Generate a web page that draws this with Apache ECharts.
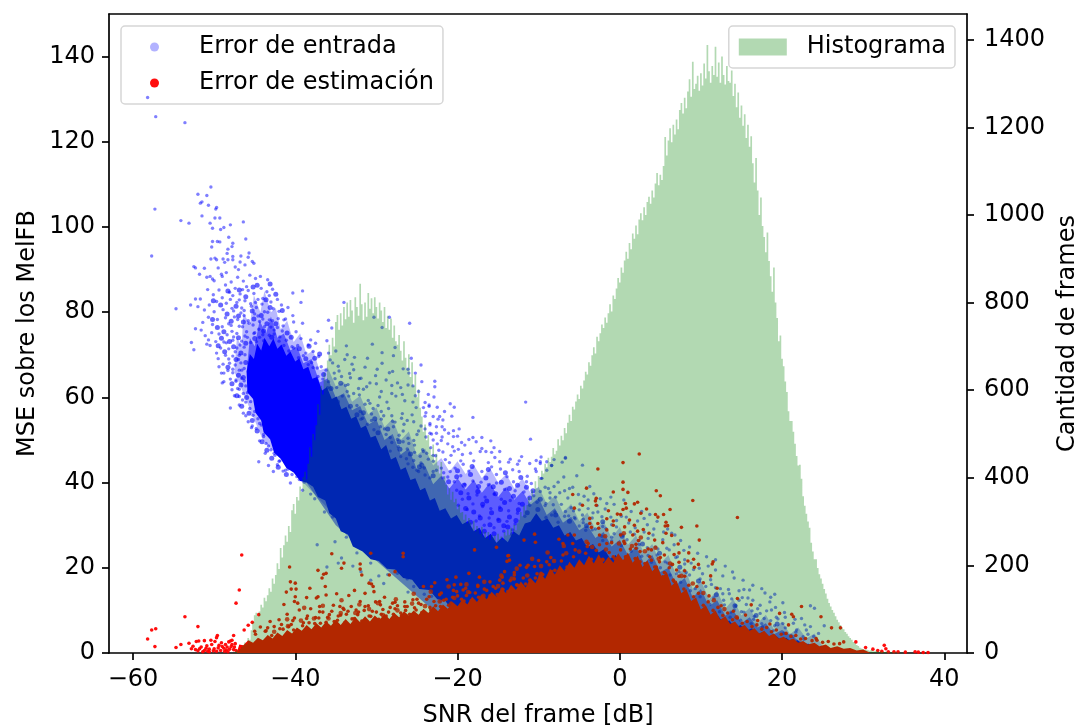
<!DOCTYPE html>
<html><head><meta charset="utf-8"><style>html,body{margin:0;padding:0;background:#fff}#c{width:1081px;height:728px}</style>
<script src="https://cdn.jsdelivr.net/npm/echarts@6/dist/echarts.min.js"></script></head><body><div id="c"></div>
<script>
const xTicks=[-60,-40,-20,0,20,40];
const yLeftTicks=[0,20,40,60,80,100,120,140];
const yRightTicks=[0,200,400,600,800,1000,1200,1400];
const histStart=-47.4, histStep=0.2;
const histCounts=[
2,6,4,9,14, 18,24,21,34,30, 52,70,86,92,84, 95,110,104,126,118, 132,148,140,170,158,
178,205,192,240,218, 246,268,254,290,276, 326,340,318,356,348, 380,368,402,414,396, 432,470,448,500,486,
520,568,544,610,590, 640,622,668,704,680, 720,700,756,772,738, 776,748,790,762,800, 768,806,782,754,812,
790,770,843,796,760, 800,768,822,786,810, 776,812,790,764,800, 782,756,790,742,770, 738,764,720,748,712,
704,726,690,668,712, 674,650,682,630,664, 610,636,584,602,560, 540,505,522,486,498, 470,452,476,440,455,
428,410,436,396,404, 384,362,376,350,368, 344,352,328,338,320, 322,304,316,296,308, 298,286,302,278,290,
284,272,288,266,276, 262,276,258,270,264, 268,254,272,260,266, 258,276,268,282,270, 286,272,292,280,296,
304,322,312,336,326, 338,356,346,372,360, 392,376,404,398,416, 410,432,424,446,436, 448,468,454,462,488,
474,496,486,514,502, 526,544,530,562,556, 574,590,580,610,604, 622,642,636,664,656, 680,698,684,722,712,
730,750,742,766,754, 776,796,780,816,808, 832,856,846,880,868, 896,916,900,936,922, 958,946,976,956,990,
1004,988,1018,1000,1030, 1042,1026,1056,1040,1072, 1096,1068,1092,1080,1112, 1178,1136,1170,1198,1166, 1206,1184,1218,1196,1240,
1256,1232,1268,1244,1282, 1310,1270,1350,1288,1300, 1318,1284,1324,1296,1346, 1312,1388,1328,1302,1340, 1320,1384,1316,1348,1302,
1362,1320,1298,1340,1306, 1302,1330,1272,1300,1246, 1280,1222,1250,1204,1230, 1176,1206,1156,1180,1118, 1074,1130,1056,1000,1040,
975,950,915,960,895, 860,825,880,800,765, 712,725,672,655,620, 596,552,530,530,505, 478,450,428,430,398,
358,336,318,300,286, 252,232,214,214,194, 180,170,158,146,136, 124,114,106,98,92, 84,76,70,64,58,
54,48,44,38,34, 30,25,22,18,16, 12,10,9,8,8, 6,5,7,4,4, 5,3,3,4,2, 2,3,2,1,2, 1,2,1,1,1, 1,0,1,0,1];

const blueCore=[[-46,66],[-45.6,70.2],[-45.1,69],[-44.7,72.6],[-44.2,71],[-43.8,74],[-43.2,72],[-42.7,73.8],[-42.2,71.4],[-41.7,72.4],[-41.1,69.8],[-40.6,70.8],[-40,68.4],[-39.5,69.2],[-39,66.6],[-38.4,67.2],[-37.9,64.4],[-37.3,64.8],[-36.7,61.6],[-36.1,62.4],[-35.5,59.6],[-34.9,60.2],[-34.3,57.2],[-33.7,57.8],[-33.1,55],[-32.5,55.6],[-31.9,52.8],[-31.3,53.4],[-30.7,50.6],[-30.1,51],[-29.4,47.8],[-28.8,48.8],[-28.2,45.4],[-27.6,46],[-27,43],[-26.4,43.6],[-25.8,40.6],[-25.2,41],[-24.6,38.2],[-24,38.8],[-23.4,35.8],[-22.8,36.4],[-22.2,33.4],[-21.5,34],[-20.8,31.6],[-20.1,32.4],[-19.4,30.2],[-18.7,31],[-18,28.6],[-17.3,29.4],[-16.6,27],[-15.9,28],[-15.2,25.8],[-14.5,27.2],[-13.8,26],[-13.1,28.6],[-12.4,27.6],[-11.7,30.4],[-11,30.8],[-10.3,32.8],[-9.6,31],[-8.9,31.6],[-8.2,29.4],[-7.5,30],[-6.8,27.6],[-6.1,28.4],[-5.4,26.4],[-4.7,27],[-4,24.8],[-3.3,25.6],[-2.6,23.6],[-1.9,24.4],[-1.2,22.2],[-0.5,23],[0.2,20.8],[0.9,21.6],[1.6,19.6],[2.3,20.4],[3,18],[3.7,18.8],[4.4,16.8],[5.1,17.6],[5.8,15.2],[6.5,15.8],[7.2,13.2],[7.9,13.8],[8.6,11.2],[9.3,11.8],[10,9.6],[10.7,10.4],[11.4,8.2],[12.1,8.8],[12.8,7],[13.5,7.6],[14.2,6],[14.9,6.6],[15.6,5.2],[16.3,5.8],[17,4.4],[17.7,5],[18.4,3.8],[19.1,4.2],[19.8,3.2],[20.5,3.6],[21.2,2.6],[21.9,3],[22.6,2],[23.3,2.2],[24,1.2],[25,1.2],[26,0.3],[26,0],[-18.5,0],[-18.5,7],[-19.5,9.2],[-20.6,9.8],[-21.5,12.2],[-22.5,12.6],[-23.5,14.8],[-24.7,15],[-25.6,17.2],[-26.7,17.6],[-27.7,19.6],[-28.7,19.8],[-29.7,21.6],[-30.7,22],[-31.7,23.8],[-32.9,25],[-33.5,27.8],[-34.4,28.6],[-35,31.6],[-35.8,32.8],[-36.3,35.8],[-37.2,36.6],[-37.8,39],[-38.6,40],[-39.4,40.4],[-40.2,42.4],[-41.1,43.4],[-41.8,45.6],[-42.6,47],[-43.1,50.2],[-43.9,51.8],[-44.2,54.6],[-44.9,56.4],[-45.2,59.6],[-45.9,61.2]];
const blueHazeInner=[[-46,66],[-45.6,74],[-45,72],[-44.4,78],[-43.6,75],[-43,79],[-42.2,74],[-41.4,75],[-40.6,71],[-39.8,72],[-39,68],[-38,69],[-37,63.5],[-36,64.5],[-35,60],[-34,61],[-33,57],[-32,58],[-31,53.6],[-30,54.8],[-29,50],[-28,51.4],[-27,46.6],[-26,48],[-25,43],[-24,44],[-23,39.6],[-22,41.6],[-21,38.6],[-20,41],[-19,38.4],[-18,40.6],[-17,37.6],[-16,40],[-15,36.6],[-14,39],[-13,36],[-12,38],[-11,34.8],[-10,36.4],[-9,32.4],[-8,34],[-7,30.6],[-6,32],[-5,28.8],[-4,30],[-3,27],[-2,28.4],[-1,25],[0,26.6],[1,23],[2,25],[3,21],[4,23],[5,19],[6,20],[7,16],[8,17.6],[9,13],[10,15],[11,11],[12,12.4],[13,8.8],[14,10],[15,7],[16,8.4],[17,6],[18,7],[19,4.4],[20,5.4],[22,3],[24,1.5],[-20,5],[-35,30],[-44,55]];
const blueHazeOuter=[[-47.5,66],[-47.2,74],[-46.6,72],[-46.4,80],[-45.6,77],[-45.1,84],[-44.3,80],[-43.8,85],[-43,80],[-42.4,81],[-41.8,76],[-41,78],[-40.2,73],[-39.4,75],[-38.6,70],[-37.8,71],[-37,66.4],[-36,67],[-35,62.6],[-34,63.6],[-33,59],[-32,60.4],[-31,56],[-30,57.6],[-29,53],[-28,55],[-27,50],[-26,52],[-25,46.4],[-24,48],[-23,44],[-22,45.8],[-21,42.6],[-20,45],[-19,42],[-18,44.2],[-17,41],[-16,43.4],[-15,40],[-14,42],[-13,38.6],[-12,41],[-11,37.6],[-10,39],[-9,35],[-8,37],[-7,33],[-6,35],[-5,31],[-4,33],[-3,29],[-2,31],[-1,27],[0,29.6],[1,25.4],[2,27.6],[3,23.4],[4,25.6],[5,21],[6,23],[7,18],[8,20],[9,15],[10,17],[11,12.6],[12,14.6],[13,10.4],[14,12.6],[15,8.8],[16,10.6],[17,7],[18,9],[19,5.6],[20,7.4],[21,4.4],[22,6],[23,3.4],[24,4.6],[25,1.6],[20,0],[-30,22],[-44,50]];
const redCore=[[-47.2,0.2],[-46.9,2],[-46.4,1.8],[-45.8,3],[-45.2,2.4],[-44.6,3.6],[-44,3],[-43.4,4.2],[-42.8,3.4],[-42.2,4.8],[-41.6,4],[-41,5.4],[-40.4,4.6],[-39.8,6],[-39.2,5.2],[-38.6,6.6],[-38,5.6],[-37.4,7],[-36.8,6],[-36.2,7.4],[-35.6,6.4],[-35,7.8],[-34.4,6.6],[-33.8,8],[-33.2,6.8],[-32.6,8.4],[-32,7.2],[-31.4,8.6],[-30.8,7.4],[-30.2,8.8],[-29.6,7.8],[-29,9.2],[-28.4,8],[-27.8,9.4],[-27.2,8.4],[-26.6,9.8],[-26,8.8],[-25.4,10],[-24.8,9],[-24.2,10.4],[-23.6,9.4],[-23,11],[-22.4,9.8],[-21.8,11.4],[-21.2,10.4],[-20.6,12],[-20,11],[-19.4,12.6],[-18.8,11.4],[-18.2,13.2],[-17.6,12],[-17,13.8],[-16.4,12.6],[-15.8,14.4],[-15.2,13.2],[-14.6,15.2],[-14,14],[-13.4,16],[-12.8,14.8],[-12.2,16.8],[-11.6,15.4],[-11,17.6],[-10.4,16.4],[-9.8,18.8],[-9.2,17.4],[-8.6,19.8],[-8,18.4],[-7.4,20.6],[-6.8,19.2],[-6.2,21.4],[-5.6,20],[-5,22],[-4.4,20.6],[-3.8,22.8],[-3.2,21],[-2.6,23.2],[-2,21],[-1.4,22.6],[-0.8,21.2],[-0.2,23.4],[0.4,21.8],[1,23.6],[1.6,21.2],[2.2,22.8],[2.8,20.2],[3.4,21.8],[4,19.2],[4.6,20.4],[5.2,17.8],[5.8,19],[6.4,15.8],[7,17],[7.6,14],[8.2,15],[8.8,12.2],[9.4,13],[10,10.2],[10.6,11.2],[11.2,9],[11.8,10],[12.4,7.8],[13,8.6],[13.6,6.8],[14.2,7.4],[14.8,6],[15.4,6.6],[16,5.2],[16.6,5.8],[17.2,4.6],[17.8,5.2],[18.4,4],[19,4.6],[19.6,3.4],[20.2,3.8],[20.8,3],[21.4,3.4],[22,2.4],[22.6,2.8],[23.2,2],[24,2.4],[24.6,1.6],[25.4,2],[26,1.2],[26.8,1.6],[27.6,1],[28.4,1.2],[29.2,0.6],[30,0.8],[30.8,0.1],[30.8,0],[-47.2,0]];

const blueTop=[[-58.2,130.4],[-57.2,125.9],[-53.6,124.5],[-50.4,109.4],[-52,107.7],[-50.9,107.4],[-51.7,105.6],[-51.5,105.9],[-50.7,105.1],[-49.7,104.6],[-49.8,104.2],[-57.3,104.2],[-54.1,101.5],[-53.1,100.9],[-51.5,102.6],[-50.5,100.9],[-49.9,102.1],[-49.3,102.1],[-50.2,99.7],[-49.2,99.4],[-48.8,99.9],[-48,100.5],[-46.4,101.2],[-46.1,97.2],[-48.2,97.6],[-50.2,96.6],[-49.6,96.6],[-49.3,96.5],[-47.7,96.2],[-50.3,95.3],[-47.8,95.4],[-48.3,94.8],[-48.4,93.8],[-45.7,93.9],[-46.7,93.2],[-47.7,93.1],[-45.8,92.9],[-57.7,93.2],[-50.4,92.5],[-49.9,92.7],[-49.7,92.3],[-48.9,92.5],[-48.3,92.3],[-47.7,92.3],[-46.8,91.8],[-46.2,91.1],[-45.3,91.9],[-45.1,91.5],[-48.7,91.7],[-52.5,90.7],[-52.3,90.4],[-51.2,90.3],[-49.5,90.4],[-47.4,90.6],[-47,90],[-51.8,88.9],[-49.1,88.9],[-48.5,89.3],[-50.9,88.2],[-50.5,88.4],[-50.2,87.8],[-50,87.4],[-49,88.4],[-54.7,80.8],[-52.3,83.1],[-51.7,83.1],[-52.9,81.7],[-52,81.3],[-52.3,76.1],[-52.8,72.9],[-52.5,71.2],[-51.1,74.5],[-50.9,72.5],[-50.5,72.2],[-49.5,69.1],[-49.1,65.7],[-48.8,65.7],[-49,63.4],[-48.8,63.7],[-48,57.5],[-47.5,60.4],[-47.8,61.8],[-46.9,60.2],[-45.8,54.3],[-45.3,53.3],[-44.5,44.9],[-43.3,44],[-42.7,42.6],[-41.5,42.7],[-40.3,84.5],[-39.1,85],[-39.3,82.3],[-43.4,87.6],[-44.3,88.4],[-40.9,81.1],[-42,80.2],[-40.3,79.2],[-40.2,77.7],[-39.1,77.4],[-34,82.3],[-35.9,78.1],[-37.2,75.5],[-35.5,76.3],[-38.1,73.5],[-37.5,72.7],[-36.1,73.3],[-38.4,72.3],[-39.7,72.2],[-35.9,70.4],[-35,70.9],[-37.1,69.6],[-35.7,68.8],[-38,68.2],[-34.7,67.3],[-30.3,78.8],[-28.4,78.8],[-25.9,77.4],[-29.3,76.4],[-33.7,72.1],[-30.5,72.5],[-29.3,70.5],[-27.9,69.8],[-27.7,71.7],[-33.6,70],[-31.1,69.2],[-25.7,69.2],[-24.5,67.6],[-29.3,68],[-33,67.8],[-32.8,66.5],[-31.9,64.5],[-29.9,66.6],[-28.4,65.8],[-28,66.1],[-26.7,66.7],[-26,65.7],[-25.2,65.7],[-26.1,66.6],[-24.4,63.7],[-22.8,63.8],[-22.8,62.5],[-30,63.2],[-31.2,62.5],[-31.6,61.9],[-27,62.3],[-25.5,62.7],[-28.1,62.8]];
const blueCloud=[[-48.6,86.4],[-47.9,87.1],[-47.1,88.2],[-46.4,87.3],[-45.6,88.7],[-44.9,87.9],[-46,86],[-47.4,85.6],[-48.1,84.7],[-49.4,85.2],[-50.1,84.1],[-50.8,85.3],[-49,83.4],[-47.7,83.9],[-46.8,84.3],[-45.8,85.1],[-45.1,84.4],[-44.2,85.6],[-43.5,84.8],[-42.8,85.4],[-44.6,83],[-46.2,82.7],[-47.2,82.3],[-48.5,82.1],[-49.7,82.5],[-50.6,81.7],[-51.2,80.5],[-50,80.1],[-48.9,80.6],[-47.8,80.9],[-46.6,81],[-45.4,81.4],[-44.1,81.9],[-43,82.4],[-42.2,83],[-41.7,81.7],[-42.7,80.8],[-43.8,80.1],[-45,79.6],[-46.3,79.2],[-47.5,78.9],[-48.6,78.7],[-49.6,78.3],[-50.7,78.8],[-51.4,77.6],[-50.2,77.1],[-49,76.6],[-47.9,76.9],[-46.9,76.7],[-45.7,77.4],[-44.4,77.8],[-43.2,78.2],[-42.1,78.5],[-41.2,78.4],[-41.5,76.8],[-43,76.5],[-44.5,76],[-46,75.4],[-47.2,75],[-48.4,74.7],[-49.4,74.9],[-50.3,75.2],[-51.6,75.8],[-50.7,73.5],[-49.8,73.1],[-48.8,73],[-47.7,73.4],[-46.6,73.2],[-45.9,74.1],[-48.2,71.4],[-49.2,71.6],[-47.2,71.6],[-46.3,71.8],[-49.7,70.4],[-48.6,69.9],[-47.7,69.7],[-46.9,69.9],[-46.2,70],[-48.1,68],[-47.4,67.6],[-46.7,68.1],[-48.9,67.8],[-49.4,67.2],[-48.3,66.3],[-47.7,65.8],[-46.9,66.4],[-46.3,66.8],[-48,64.3],[-47.3,63.8],[-46.6,64.5],[-46.1,62.7],[-47.1,62.1],[-46.4,60.9],[-45.7,61.6],[-46.9,58.2],[-46.1,58.9],[-45.6,57.4],[-46.4,56.3],[-45.2,55.8],[-44.6,55],[-44.8,52.7],[-44.2,53.5],[-43.9,51.3],[-44.4,49.8],[-43.6,49.2],[-43,47.7],[-42.5,46.4],[-43.7,46.9],[-41.9,45.1],[-42.2,44.2],[-41.4,78.2],[-44.9,82.3],[-46.7,79.8],[-48,83],[-46.5,85.3],[-47.6,74.2],[-45.1,75],[-44,74.7],[-41.9,74.2],[-41.1,73.4],[-39.9,75.4],[-39.3,73.8],[-40.4,71.9],[-42.6,74.9],[-43.9,73.3],[-44.8,73.1],[-38.7,70.4],[-37.8,70.8],[-36.8,67.2],[-36.2,66.4],[-37.3,66.9],[-35.2,65.7],[-34.3,64.9],[-35.9,63.7],[-33.8,62.8],[-34.9,62.3]];
const blueBand=[[-33.2,64.6],[-32.2,62.1],[-31,59.3],[-32.4,58.1],[-30.4,57.4],[-29.6,60.1],[-28.7,58.9],[-27.6,60.3],[-26.5,59.2],[-25.2,60.4],[-24,58.8],[-22.9,60.1],[-23.9,56.4],[-25.1,57.6],[-26.8,56.2],[-28.1,55.7],[-29.4,54.9],[-30.6,54.6],[-31.7,55.1],[-29,52.6],[-27.9,53.1],[-26.6,53.7],[-25.4,54.3],[-24.5,53.3],[-23.4,53.9],[-22.4,54.9],[-21.6,56.7],[-28.3,50.6],[-27.2,51.1],[-26.1,50.4],[-25,51.3],[-23.9,50.7],[-27.3,48.4],[-26.2,47.9],[-25.3,48.8],[-24.3,47.7],[-23.3,48.2],[-22.5,49.1],[-26.3,45.6],[-25.4,45.2],[-24.5,44.6],[-23.6,45.5],[-22.7,46.3],[-21.8,47.2],[-25,42.9],[-24,41.8],[-23,42.6],[-22,43.4],[-21,44.7],[-23.5,57.9],[-20.9,58.5],[-20.4,57.7],[-24,55.6],[-23,55.5],[-22.2,55.5],[-21.8,54.7],[-22.6,53.1],[-21.9,53.1],[-23.4,53.5],[-21.6,52.4],[-20.5,52.2],[-19.8,52.6],[-23.4,51.6],[-21.1,51.6],[-20.5,50.8],[-20,50.9],[-18.1,55.3],[-20.7,55.6],[-23.5,58.2],[-22.5,57.7],[-11.6,58.9],[-11,50.2],[-18.1,50.6],[-17,50.6],[-18.6,50.1],[-17.7,49.6],[-15.9,49.8],[-23,50],[-22,49.9],[-19.5,49.4],[-19.1,48.8],[-15.5,48.2],[-17,48],[-16.5,47.3],[-15.8,47.1],[-14.8,47.3],[-17.2,47.3],[-12.1,46.1],[-12.4,45.1],[-10.3,45.2],[-9.8,44.9],[-9,44.9],[-8.4,44],[-13.5,45.5],[-13.7,44.8],[-14.8,44.9],[-15.4,45.9],[-16.2,44.7],[-6.7,45.9],[-12.6,44.3],[-14.7,43.2],[-13.2,43],[-12.4,42.6],[-10.3,42.6],[-15.8,43.7],[-17,42.6],[-13.9,41.4],[-11.4,41.5],[-9.6,41],[-15.2,41.9],[-13.1,40.2],[-10.9,39.8],[-11.5,40.2],[-20.4,47.4],[-19.4,46.6],[-18.4,46.9],[-18,45.1],[-19.3,44.3],[-20.3,43.4],[-18.6,42.7],[-19.6,41.6],[-20.4,40.2],[-19.1,39.6],[-18.1,40.4],[-17.1,40.1],[-16.2,39.5],[-15.2,39.9],[-14.2,38.4],[-12.9,38.1],[-11.8,37.8],[-10.6,36.9],[-9.8,37.9],[-18.7,37.4],[-17.6,37.1],[-16.6,36.6],[-15.5,37.3],[-14.6,36.1],[-13.5,35.8],[-12.4,35.1],[-11.1,34.7],[-18.1,35],[-16.9,34.4],[-15.9,33.9],[-14.8,34.2],[-13.7,33.4],[-12.6,32.8],[-11.7,32.1],[-17.3,32.2],[-16.1,31.7],[-15,31.4],[-13.9,30.9],[-12.9,30.3],[-16.7,30],[-15.5,29.4],[-14.3,28.6],[-13.2,28.9],[-20.1,38.2],[-19.4,36.1],[-21.2,41.3],[-19.9,34.7],[-18.8,33.7],[-17.7,31],[-9.2,38.9],[-8.6,37.6],[-10.2,35.4],[-9.1,35.1],[-8.1,39.1],[-8.8,38.6],[-8.4,44],[-9,42.9],[-9.8,44.5],[-10.4,43.2],[-11.1,44.5],[-9.7,41],[-6.7,45.7],[-6.9,41.3],[-5.3,41.6],[-5.8,38.9],[-3.7,39.1],[-7.6,40.1],[-6.8,38.1],[-7.9,36.6],[-6.4,36.4],[-5.1,37.2],[-4.4,36.8],[-3.2,37.4],[-2.4,36.2],[-1.1,36.6],[-7.2,34.9],[-6,34.1],[-4.9,35],[-3.9,33.9],[-2.8,34.6],[-1.8,33.8],[-0.7,34.9],[0.5,35.9],[1.4,33.2],[2.7,33.2],[3.7,32.5],[0.2,32.1],[-1.1,31.9],[-2.2,32],[-3.4,31.7],[-4.6,32.4],[-5.5,31.5],[-6.3,32.2],[1.1,30.5],[2.2,31],[3.4,30.1],[4.6,30.9],[5.9,29.1],[6.8,27.7],[-0.4,29.6],[-1.7,29.2],[-3,29.1],[-4.2,28.8],[-5,29.8],[1.8,27.9],[3,28.4],[4.1,27.7],[5.3,26.6],[6.7,25.4],[7.9,24.1],[0.4,27.6],[-1,27.2],[-2.1,26.4],[2.4,25.5],[3.4,24.7],[4.4,24.9],[6.1,24.2],[7.1,22.6],[8,21.9],[8.8,21.1],[9.8,19.9],[10.9,20.4],[11.8,19.5],[13.9,19],[12.7,18.1],[11.2,17.2],[9.9,17.4],[8.6,18.3],[7.3,19.1],[6.3,20.5],[5.6,21.4],[13.4,14.9],[14.7,14.6],[15.3,14.9],[16,14.8],[17.9,14.1],[19.1,13.8],[20.1,11.8],[18.5,12],[16.4,12.4],[15.1,13],[13.8,12.7],[12.7,13.9],[11.8,15.3],[12.9,11.3],[14.3,11.1],[15.6,11.4],[17.3,11.2],[18.7,10.1],[19.2,10.7],[17.3,9.3],[16.3,9.9],[15,9.7],[13.7,9.6],[23.5,11.1],[24,10.5],[22.4,8.1],[25.2,6.4],[23.5,6.2],[24.5,4.6],[20.3,9.5],[21.4,7],[20.1,6.9],[21.8,5.4],[23,5.4],[23.9,3.9],[18.6,7.6],[19.5,8],[17.5,6.9],[16.5,7.9],[22.6,3.8],[21.1,4.2],[-8.1,45.4],[-7.1,44.8],[-9.7,46],[-4.6,44.1],[-36.6,45.6],[-35.6,43.4],[-34.7,40.2],[-37.1,38.9],[-35.9,37.7],[-34.9,36.4],[-33.8,34.7],[-36.4,33.1],[-35.4,31.9],[-34.1,31.2],[-32.9,30],[-32.1,28.4],[-31.1,27.4],[-33.7,27.2],[-35.1,26.1],[-37.3,25.4],[-34.3,22.3],[-32.4,23.5],[-30.6,24.1],[-29.6,22.4],[-30.7,21.1],[-32.9,20.4],[-34.7,21.1],[-36.1,20.2],[-28.6,18.4],[-27.4,18.7],[-26.2,17.4],[-29.7,18.1],[-25.4,15.6],[-24.1,13.8],[-23.2,13.3],[-22.1,12.2],[-26.1,14.3],[-31.9,19.1],[-30.7,17.1],[-29.1,16.3],[-38.9,40.1],[-38.1,37.3],[-37.6,36.2],[-39.1,38.2],[-39.8,41.4],[-40.6,39.9]];
const blueEdge=[[-46.8,72.3],[-46.2,74.4],[-45.5,72.9],[-45,75.2],[-44.4,74.1],[-43.8,76.6],[-43.2,74.6],[-42.6,75.8],[-42,73.2],[-41.4,72.2],[-40.8,70.9],[-40.2,71.6],[-39.6,69.3],[-39,69.8],[-38.4,67.7],[-37.8,67],[-37.2,64.9],[-36.6,64.3],[-36,62.3],[-46.5,76.6],[-45.8,78],[-45.2,77],[-44.6,79.1],[-44,78.4],[-43.4,80],[-42.8,78],[-42.2,76.4],[-41.6,75.6],[-47.1,78.3],[-46.3,80.4],[-45.5,82],[-44.8,81.1],[-44,83.2],[-43.2,83.9],[-46.9,82.9],[-47.6,80.3],[-48.2,77.3],[-47.8,75.5],[-48.5,72.8],[-47.4,70.7],[-47,68.9],[-46.6,66.4],[-46.3,63.9],[-45.9,61.1],[-45.5,59],[-45,56.7],[-44.4,53.9],[-43.9,50.8],[-43.3,48.6],[-42.6,46.9],[-42,45],[-41.2,42.9],[-40.4,41.9],[-39.5,40.7],[-47.7,66.6],[-47.3,64.1],[-46.9,61.9],[-46.5,59.4],[-48.2,69],[-46.1,55.7],[-45.4,52.9],[-33.5,63],[-32.1,60.6],[-30.8,58.6],[-29.4,56.7],[-28,54.4],[-26.7,52.1],[-25.4,49.9],[-24.2,47.3],[-23,45],[-21.7,42.3],[-9.2,34.6],[-8.4,32.4],[-7.6,30.7],[-9.1,31.8],[-8.2,34.8],[-6.7,33.2],[-5.6,31.8],[-4.5,30.6],[-3.4,28.9],[-2.2,27.4],[-1,26.3],[0.2,25.2],[1.4,23.9],[2.7,22.7],[3.9,21.3],[5,20],[6.2,18.3],[7.5,16.6],[8.7,14.6],[9.9,13.2],[11.1,11.4],[12.3,9.7],[13.6,8.4],[14.9,7.7],[16.2,6.9],[17.6,6.1],[18.9,5.2],[20.2,4.6],[21.4,3.9],[22.7,3.2],[-36.7,42.7],[-35.5,39.7],[-34.6,36.8],[-33.8,33.9],[-32.9,30.8],[-32,28.1],[-31,26.1],[-30,24.7],[-29,23.2],[-28,21.1],[-27,20.4],[-26,18.9],[-25,17.4],[-24,16.3],[-23,15.2],[-22,14],[-21,12.7],[-38.1,41.2],[-37.4,39.4],[-36.9,37.1],[-40.9,43.2]];
const blueFringe=[[-35.4,68.1],[-34.6,66.2],[-33.9,68.9],[-33.3,65.6],[-32.7,69.4],[-32.1,64.4],[-31.4,67.1],[-30.8,63.4],[-30.1,65.1],[-29.4,61.4],[-28.8,64.1],[-28.1,60.9],[-27.4,63.4],[-26.8,60.7],[-26.1,62.9],[-25.5,58.9],[-24.8,61.4],[-24.2,57.6],[-23.6,60.7],[-35.1,64.4],[-34.2,60.3],[-33.6,61.4],[-32.8,60.9],[-32,56.7],[-31.4,58.4],[-30.6,56.1],[-29.8,58.1],[-29.1,55.7],[-28.5,57.4],[-27.7,54.2],[-26.9,55.1],[-26.2,54.6],[-25.6,55.9],[-24.8,52.1],[-24,52.6],[-23.2,51.4],[-22.6,51.6],[-21.9,50.7],[-21.2,49.1],[-20.6,48.4],[-19.9,47.8],[-31.9,54.9],[-31.1,53.7],[-30.3,52.4],[-29.5,53.1],[-28.8,51.3],[-28.1,49.4],[-27.4,50.1],[-26.7,49.6],[-26,49.2],[-25.3,47.1],[-24.6,46.2],[-23.8,46.9],[-23,46.4],[-22.3,47.6],[-21.5,45.4],[-20.8,46.4],[-19.6,45.1],[-28.9,47.7],[-28.3,47.4],[-27.7,44.9],[-27,46.1],[-26.1,44.4],[-25.5,43.6],[-24.8,42.6],[-24.1,43.4],[-23.4,41.1],[-22.6,42.9],[-21.8,41.1],[-20.9,42.6],[-33.4,60.3],[-8.6,36.4],[-7.4,37.6],[-6.2,38.6],[-5,33.6],[-3.9,35.9],[-2.7,33.1],[-1.6,35.1],[-0.4,31.1],[0.8,31.9],[1.9,29.4],[3,31.6],[4.2,29.1],[5.4,28.4],[6.4,28.1],[7.5,26.4],[8.6,24.9],[9.6,23.4],[10.7,22.6],[11.8,21.9],[13,20.4],[14.1,17.6],[15.2,17.1],[16.4,15.9],[17.5,15.1],[18.6,13.1],[-8,33.1],[-6.8,32.1],[-5.7,33.4],[-4.5,31.4],[-3.3,32.9],[-2.1,29.7],[-1,30.1],[0.1,27.9],[1.3,28.4],[2.4,26.4],[3.5,26.9],[4.7,24.4],[5.8,24.6],[6.9,22.4],[8,20.9],[9.1,19.6],[10.2,18.6],[11.3,16.1],[12.4,15.1],[13.5,13.9],[14.7,12.4],[15.8,12.9],[17,10.4],[18.1,9.9],[19.3,8.4],[20.4,8.4],[21.6,7.9],[22.8,6.6],[-0.7,28],[0.9,26.6],[2.1,24.6],[3.5,22.9],[4.6,23],[5.9,21.1],[7,18.6],[8.2,18.9],[9.3,15.1],[10.6,15.6],[11.6,12.9],[12.8,12.4],[14.1,10.1],[15.3,9.6],[16.6,8.6],[17.8,8.1],[19.1,6.4],[20.4,5.9],[21.7,4.9],[23.2,4.4]];
const blueDense=[[-47.3,81.4],[-46.1,83.6],[-44.7,86.3],[-43.6,82.9],[-42.4,84.2],[-48.4,79.6],[-47,79.1],[-45.3,80.3],[-44.2,79.2],[-43.1,81.1],[-41.6,80.4],[-48.8,75.4],[-47.9,77.9],[-46.4,77.7],[-45.1,78.4],[-43.5,77.3],[-42.4,77.3],[-41,75.1],[-48.1,73.1],[-47,74],[-46.1,72.7],[-45,73.8],[-43.9,75.6],[-42.9,74.1],[-40.5,74.1],[-39.5,71.4],[-38.7,69.1],[-37.6,69.2],[-48.7,70.7],[-47.6,71.9],[-46.7,70.4],[-46.1,68.2],[-47.3,68.9],[-48.3,67.1],[-47,65.2],[-46.4,64.7],[-47.8,63.2],[-46.7,62.9],[-46,60],[-47.2,60.4],[-46.6,57.9],[-45.7,56.3],[-45.3,54.6],[-44.7,52.1],[-44.1,49.6],[-43.5,47.6],[-42.9,45.7],[-42.1,43.6],[-41.1,41.9],[-50.1,82.7],[-49.2,81.7],[-50.2,78.3],[-49.6,76.4],[-49.1,73.9],[-49.5,72.1],[-45.2,85.9],[-46.9,85.2],[-48.3,85],[-43.1,86.6],[-36.5,65.4],[-35.6,62.1],[-34.4,63.3],[-38.3,72],[-37,70.2],[-20.1,41.4],[-19.2,39.4],[-18.4,41.9],[-17.4,39.1],[-16.5,41.1],[-15.6,39],[-14.6,40.1],[-13.6,38.6],[-12.6,39.4],[-11.5,38.9],[-19.6,37.6],[-18.6,36.4],[-17.5,37.9],[-16.4,35.7],[-15.3,37.4],[-14.2,35.3],[-13.1,36.8],[-12,34.9],[-19,33.9],[-18,33.1],[-16.9,34.9],[-15.8,32.9],[-14.7,33.7],[-13.6,31.9],[-12.5,33.6],[-11.4,32.9],[-18.4,30.7],[-17.2,31.7],[-16,30.1],[-14.9,31.1],[-13.8,29.6],[-12.8,31.1],[-16.7,28.6],[-15.5,28],[-14.3,29.9],[-13.2,27.9],[-10.7,38.1],[-9.8,36.1],[-10.1,33.7],[-11.1,36.4],[-12.2,41.2],[-14.1,42.3],[-16.2,43.1],[-18.2,43.8],[-20,42.8],[-21.1,40.2],[-7.9,32.4],[-6.2,30.9],[-4.1,29.9],[-2.1,30.8],[0.3,27.4],[2.8,25.6],[4.9,23.4],[7.4,20.1],[9.7,16.9],[11.9,13.7],[14.2,11.1],[16.8,8.8],[19.4,6.8],[-32.4,55.9],[-29.8,51.7],[-27.1,47.8],[-24.7,43.7],[-34.8,58.9],[-33.2,57.9],[-31.6,56.4],[-30.2,55],[-28.6,52.6],[-27.2,49.6],[-25.8,46.7],[-24.4,44.1],[-23,41.6]];
const redOut=[[-46.6,23],[-46.9,14.8],[-47.3,11.7],[-53.6,8.5],[-52,6.2],[-57.2,5.7],[-57.7,5.4],[-58.2,3.3],[-57.3,1.5],[-54.1,2],[-54.7,1.3],[-53.1,2.3],[-49.6,4.1],[-49.7,3.6],[-51.2,2.9],[-52.2,2.7],[-51.9,2.8],[-47.6,4.1],[-46.3,5.4],[-45.8,6.5],[-45.3,7.2],[-44.5,9],[-52.6,1.6],[-52.3,0.8],[-52,0.5],[-51.6,1.4],[-51.2,0.6],[-50.9,1.7],[-50.6,0.9],[-50.3,2],[-50,1],[-49.7,0.4],[-49.4,1.8],[-49.1,2.4],[-48.8,1.1],[-48.5,0.7],[-48.2,2.6],[-47.9,1.5],[-47.6,0.8],[-47.4,2.2],[-49.9,2.7],[-48.6,2],[-48,2.8],[-51.4,0.3],[-50.8,0.4],[-49.2,0.6],[-48.3,0.3],[-47.8,3],[-50.4,3],[-52.8,1],[-49.5,1.2],[-49,1.5],[-48.7,0.4],[-48.4,1.4],[-48.1,0.9],[-47.8,2],[-47.5,1.4],[-47.3,0.6],[-50.1,0.5],[-50.6,0.3],[-51,1.1],[-51.8,1],[30.3,1.3],[32.6,1.8],[32.8,1],[31.2,0.9],[31.8,0.6],[32.3,0.4],[33.1,0.3],[33.8,0.3],[34.3,0.3],[35.2,0.2],[36.4,0.3],[36.8,0.2],[37.4,0.1],[38,0.1]];
const redLow=[[-40.7,20.2],[-35.5,23.3],[-30.7,23.4],[-26.7,23.4],[-26.7,22.6],[-17.9,24.2],[-15.2,24.8],[-13.7,22.9],[-13.9,21.5],[-37.2,19.4],[-36.5,18.5],[-36.2,18.7],[-36.7,17.6],[-34,21.1],[-34.3,19.9],[-32,20.9],[-32,19.7],[-31.8,18.3],[-27.7,19.1],[-28.4,18.3],[-40.6,16.7],[-40,16.4],[-40.5,15],[-41.1,14.3],[-39.9,15],[-38.2,15.2],[-36.3,15.6],[-32.7,14.7],[-30.9,16.4],[-30.6,16.2],[-30.4,15.6],[-30.3,14.4],[-31.4,14],[-33.4,13.5],[-34.9,13.9],[-36.2,13.6],[-37.2,13.2],[-38.6,13],[-40,13.2],[-41.4,11.4],[-40.1,12.1],[-39.7,11.7],[-37.4,12.9],[-37,10.9],[-34.5,10.9],[-34.1,10.5],[-32,12.1],[-29,13.1],[-29.6,12.1],[-27.7,11.9],[-26.5,10.9],[-25.5,12.5],[-24.2,15.6],[-23.2,15.6],[-22.8,16.5],[-21.3,17.2],[-20.2,17.8],[-20.4,16],[-19.6,16.1],[-18.6,18.7],[-17.3,17.8],[-19.3,14.8],[-17.5,15.6],[-15.6,15.6],[-14.4,16.4],[-12.7,16],[-44.3,6.1],[-43.6,5.2],[-43.1,7.4],[-42.6,6.2],[-42,7.8],[-41.5,5.6],[-41,9.1],[-40.5,6.7],[-40.1,8.2],[-39.5,10.1],[-39,7.1],[-38.5,8.7],[-38.1,10.4],[-37.6,6.9],[-37.1,8.2],[-36.6,9.6],[-36.2,7.2],[-35.8,9],[-35.3,11.2],[-34.8,7.7],[-34.4,8.9],[-33.9,7.1],[-33.5,9.8],[-33.1,10.9],[-32.7,8.1],[-32.2,9.6],[-31.8,7.5],[-31.4,10.9],[-30.9,8.7],[-30.5,9.8],[-30.1,12],[-29.7,7.9],[-29.2,10.2],[-28.8,8.7],[-28.3,10.7],[-27.9,9.1],[-27.4,11.1],[-26.9,8.8],[-26.4,10],[-25.9,9.1],[-25.3,10.6],[-24.8,11.7],[-24.4,9.5],[-23.8,12.6],[-23.3,10.1],[-22.7,11.1],[-22.2,13.7],[-21.7,12.4],[-21.1,11.2],[-20.6,13.1],[-20.1,14.4],[-19.5,12.6],[-18.9,13.5],[-18.3,12.3],[-17.8,14.1],[-17,13.2],[-16.4,14.7],[-15.8,12.7],[-15.1,13.7],[-14.5,15],[-13.8,14.4],[-13,17.4],[-12.3,15.1],[-11.6,16.2],[-11,14.9],[-10.4,17.6],[-9.8,18.1]];
const redHigh=[[2.4,46.7],[0.4,44.7],[-2.7,43.2],[0.4,40.1],[-4.1,38.7],[0.4,38.4],[1,37.7],[-0.8,37.8],[4.5,38.1],[5,36.9],[9,35.8],[-5.8,37.2],[-2.9,36.3],[-3,35.7],[-2.9,34.7],[2.2,35.4],[1.8,35],[0.7,35.1],[14.5,31.8],[-4.6,34.7],[-5.6,34],[-1.4,33.4],[0.4,33.7],[0.8,34],[3.3,33.8],[6.2,33.7],[-0.3,32.6],[0.1,32.5],[2.6,32.8],[4.4,32.5],[5.4,32.5],[4.7,31.9],[-3.7,31.6],[-1.6,31.5],[1.2,31.2],[-3.7,30.4],[-2.7,30.4],[-0.8,31],[5.7,30.7],[7.6,29.5],[9.5,29.8],[5.6,29.8],[5.9,29.9],[-3.5,29.5],[-2.6,29.3],[-0.8,30],[0.6,29.6],[1.8,30],[2.9,29],[3.6,28.1],[5.7,28.1],[6.4,27.6],[9.8,26.5],[7.2,25.6],[1.6,27.7],[2.2,28.6],[0.1,27.7],[-1.6,28.9],[-2.5,27.7],[-5.6,27.7],[-6.4,27.7],[-10.5,27.9],[-11.8,26.5],[-10.4,26],[-7.5,26.7],[-7,25.7],[-5.8,25.7],[-3.9,25.7],[-1.6,25.7],[0.6,25.7],[2.3,26.4],[4.3,26.5],[5.3,25.9],[2,24.6],[3.9,24.2],[5.5,23],[6.7,23.1],[7.3,23.5],[8.5,23.5],[9.1,22],[8.4,21.6],[7.3,21.3],[11.5,21.4],[11.4,20.9],[9.7,20.8],[9.2,20.1],[8,19.3],[7,19.5],[11.2,18.1],[10.3,16.5],[12,15.2],[14.5,12.8],[16.2,11.3],[22.4,10.9],[24.8,8.5],[21.2,9.1],[21.4,8.5],[19.7,9.3],[26.1,5.9],[27.2,5.9],[20.8,6.6],[24.2,3.4],[27.6,2.6],[29.1,2.6],[-14.8,17.1],[-14.2,19.1],[-13.6,21.8],[-13.8,22.8],[-12.3,20.6],[-11.3,20.6],[-10.5,20.3],[-9,21.4],[-8.4,19.1],[-9.7,18.7],[-11.1,17.1],[-13,18.3],[-9,17.1],[-7.8,17.1],[-6.6,19.5],[-5,19.9],[-3.7,21],[-2.1,21.8],[-0.8,22.6],[0.8,22.6],[2.5,21.4],[4.5,20.2],[5.3,17.9],[6.6,17.1],[3.9,21.8]];
const redFringe=[[-44.9,4.4],[-43.7,5.1],[-42.9,4.1],[-41.9,5.7],[-40.8,6.2],[-40.2,5.4],[-39.1,6.4],[-38.3,7.1],[-37.5,8.3],[-36.9,7],[-36,8.4],[-35.2,7.4],[-34.7,8.7],[-33.7,9.1],[-33,8],[-32.3,9],[-31.5,10],[-30.7,8.6],[-30,9.6],[-29.4,9.1],[-28.5,9.6],[-27.7,10.4],[-27,9.4],[-26.2,10.9],[-25.1,10.1],[-24.5,11.4],[-23.4,10.7],[-22.9,12.1],[-22.1,10.9],[-21.4,12.6],[-20.8,11.7],[-20,13.4],[-19.2,12.2],[-18.5,14.2],[-17.4,13.1],[-16.7,15],[-16,13.4],[-15.3,15.2],[-14.4,14.9],[-13.5,17],[-12.6,15.9],[-11.9,17.6],[-11,16.6],[-10.2,18.6],[-9.5,18.4],[-8.7,20.7],[-8,19.4],[-7.2,21.6],[-6.5,20.2],[-5.7,22.6],[-5,20.9],[-4.2,23.4],[-3.5,22],[-2.9,24.1],[-2.1,22],[-1.3,23.6],[-0.6,22.1],[0.1,24.2],[0.7,22.6],[1.3,24.4],[1.9,22.2],[2.5,23.8],[3.1,21],[3.7,22.6],[4.3,20.2],[4.9,21.4],[5.5,18.9],[6.1,20],[6.7,16.8],[7.3,18],[7.9,15],[8.5,15.9],[9.1,13.2],[9.7,14],[10.3,11.2],[10.9,12],[11.5,10],[12.1,10.7],[12.7,8.8],[13.3,9.4],[13.9,7.8],[14.5,8.2],[15.1,7],[15.7,7.4],[16.3,6.2],[16.9,6.6],[17.5,5.6],[18.1,6],[18.7,5],[19.3,5.4],[19.9,4.4],[20.5,4.6],[21.1,3.9],[21.7,4.1],[22.3,3.3],[22.9,3.4],[23.7,2.9],[24.3,3],[25,2.5],[25.7,2.7],[26.4,2.1],[27.1,2.2],[-45,5.1],[-43.4,5.9],[-41.7,6.7],[-40.3,7.6],[-38.6,8.1],[-37,9.7],[-35.5,9.8],[-34,10.2],[-32.5,10.1],[-31,11.1],[-29.5,11.3],[-28,11.7],[-26.5,12],[-25,12.6],[-23.5,13.2],[-22,14.1],[-20.5,14.7],[-19,15.2],[-17.5,15.9],[-16,16.7],[-14.5,17.8],[-13,18.9],[-11.5,20.1],[-10,21.7],[-8.5,22.4],[-7,23],[-5.5,24.2],[-4,25],[-2.5,25.4],[-1,25.9],[0.5,26.2],[2,25.5],[3.5,24.4],[5,22.4],[6.5,20.8],[8,18],[9.5,15.6],[11,13.4],[12.5,11.1],[14,9.8],[15.5,8.9],[17,7.6],[18.5,6.8]];
const redDense=[[-42.6,5],[-40.9,6.3],[-39.3,7.6],[-37.7,8.1],[-35.9,8.1],[-34.4,9.4],[-32.6,9.4],[-30.9,10.3],[-29.2,8.9],[-27.4,10],[-25.6,11.6],[-24,11],[-22.2,12.1],[-20.4,12.9],[-18.7,14.3],[-16.8,13.4],[-15,15.7],[-13.3,17.5],[-11.4,18.2],[-9.7,20.4],[-8.1,21.6],[-6.6,23.4],[-5,23.8],[-3.4,24.9],[-1.7,24.3],[-0.1,25.7],[1.5,25.1],[3.1,23.9],[4.8,22.1],[6.2,21],[7.6,18.1],[9,16.3],[10.3,14.1],[11.6,12.4],[12.9,10.3],[14.4,8.4],[-6.9,25.1],[-4.1,26.1],[-1.8,27.4],[0.5,28.1],[2.6,27.1],[4.4,24.7],[-8.9,23.6],[-10.8,22.1],[-12.7,19.8],[-14.6,18.2],[-16.7,16.7],[-18.9,16.1],[-21.1,15.6],[-23.3,14.4],[-25.4,13.9],[-27.6,12.6],[-29.8,11.7],[-32.1,11.4],[-34.3,12.4],[-36.6,11.1],[-38.9,10.6],[-41,7.9]];
const blueFine=[...blueTop,...blueCloud,...blueBand,...blueEdge,...blueFringe];
const redFine=[...redOut,...redLow,...redHigh,...redFringe];
const histData=histCounts.map((c,i)=>[histStart+histStep*i,c]);

const ink='#000', fs=24, font='DejaVu Sans';
const minus=v=>String(v).replace('-','\u2212');
function polygonSeries(points,color,opacity,z,name){
  return {type:'custom',name,coordinateSystem:'cartesian2d',xAxisIndex:0,yAxisIndex:0,z,silent:true,
    data:points,encode:{x:0,y:1},
    renderItem:(p,api)=>p.dataIndex!==0?null:({type:'polygon',shape:{points:points.map(q=>api.coord(q))},style:{fill:color,opacity}})};
}
const axisLabel={color:ink,fontSize:fs,fontFamily:font};
const chart=echarts.init(document.getElementById('c'),null,{renderer:'canvas'});
chart.setOption({
  animation:false,backgroundColor:'#fff',
  grid:{left:109,right:114,top:14,bottom:75,containLabel:false,outerBoundsMode:'none'},
  legend:[
    {left:121,top:26,orient:'vertical',itemWidth:9,itemHeight:9,itemGap:12,padding:[9,9,9,29],
     backgroundColor:'rgba(255,255,255,0.8)',borderColor:'#d6d6d6',borderWidth:1.5,borderRadius:4,
     textStyle:{color:ink,fontSize:fs,fontFamily:font,padding:[0,0,0,35]},selectedMode:false,
     data:[{name:'Error de entrada',icon:'circle',itemStyle:{color:'rgba(0,0,255,0.6)'}},{name:'Error de estimación',icon:'circle',itemStyle:{color:'#f00'}}]},
    {right:126,top:26,orient:'vertical',itemWidth:48,itemHeight:17,padding:[9,9,9,10],
     backgroundColor:'rgba(255,255,255,0.8)',borderColor:'#d6d6d6',borderWidth:1.5,borderRadius:4,
     textStyle:{color:ink,fontSize:fs,fontFamily:font,padding:[0,0,0,15]},selectedMode:false,
     data:[{name:'Histograma',icon:'rect',itemStyle:{color:'rgba(0,128,0,0.3)'}}]}
  ],
  xAxis:[
    {type:'value',min:-62.96,max:42.8,position:'bottom',name:'SNR del frame [dB]',nameLocation:'middle',nameGap:51,nameMoveOverlap:false,
     nameTextStyle:{color:ink,fontSize:fs,fontFamily:font},splitLine:{show:false},
     axisLine:{show:true,onZero:false,lineStyle:{color:ink,width:1.7}},
     axisTick:{show:true,length:7,customValues:xTicks,lineStyle:{color:ink,width:1.7}},
     axisLabel:{...axisLabel,margin:15,customValues:xTicks,formatter:minus}},
    {type:'value',min:-62.96,max:42.8,position:'top',axisLine:{show:true,onZero:false,lineStyle:{color:ink,width:1.7}},
     axisTick:{show:false},axisLabel:{show:false},splitLine:{show:false}}
  ],
  yAxis:[
    {type:'value',min:0,max:150,position:'left',name:'MSE sobre los MelFB',nameLocation:'middle',nameGap:69,nameRotate:90,nameMoveOverlap:false,
     nameTextStyle:{color:ink,fontSize:fs,fontFamily:font},splitLine:{show:false},
     axisLine:{show:true,onZero:false,lineStyle:{color:ink,width:1.7}},
     axisTick:{show:true,length:7,customValues:yLeftTicks,lineStyle:{color:ink,width:1.7}},
     axisLabel:{...axisLabel,margin:14,padding:[6,0,0,0],customValues:yLeftTicks}},
    {type:'value',min:0,max:1459,position:'right',name:'Cantidad de frames',nameLocation:'middle',nameGap:89,nameRotate:90,nameMoveOverlap:false,
     nameTextStyle:{color:ink,fontSize:fs,fontFamily:font},splitLine:{show:false},
     axisLine:{show:true,onZero:false,lineStyle:{color:ink,width:1.7}},
     axisTick:{show:true,length:7,customValues:yRightTicks,lineStyle:{color:ink,width:1.7}},
     axisLabel:{...axisLabel,margin:17,padding:[6,0,0,0],customValues:yRightTicks,formatter:v=>String(v)}}
  ],
  series:[
    polygonSeries(blueHazeOuter,'#0000ff',0.28,1,'bho'),
    polygonSeries(blueHazeInner,'#0000ff',0.5,2,'bhi'),
    polygonSeries(blueCore,'#0000ff',1,3,'bc'),
    {type:'scatter',name:'Error de entrada',xAxisIndex:0,yAxisIndex:0,z:4,data:blueFine,symbol:'circle',symbolSize:3.4,itemStyle:{color:'#0000ff',opacity:0.5},silent:true},
    {type:'scatter',name:'blueDense',xAxisIndex:0,yAxisIndex:0,z:4,data:blueDense,symbol:'circle',symbolSize:5,itemStyle:{color:'#0000ff',opacity:0.6},silent:true},
    polygonSeries(redCore,'#ff0000',1,5,'rc'),
    {type:'scatter',name:'Error de estimación',xAxisIndex:0,yAxisIndex:0,z:6,data:redFine,symbol:'circle',symbolSize:3.6,itemStyle:{color:'#ff0000',opacity:0.95},silent:true},
    {type:'scatter',name:'redDense',xAxisIndex:0,yAxisIndex:0,z:6,data:redDense,symbol:'circle',symbolSize:4.6,itemStyle:{color:'#ff0000'},silent:true},
    {type:'bar',name:'Histograma',xAxisIndex:0,yAxisIndex:1,z:7,large:true,largeThreshold:1,barWidth:1.7,data:histData,itemStyle:{color:'rgba(0,128,0,0.3)'},silent:true}
  ]
});
</script></body></html>
